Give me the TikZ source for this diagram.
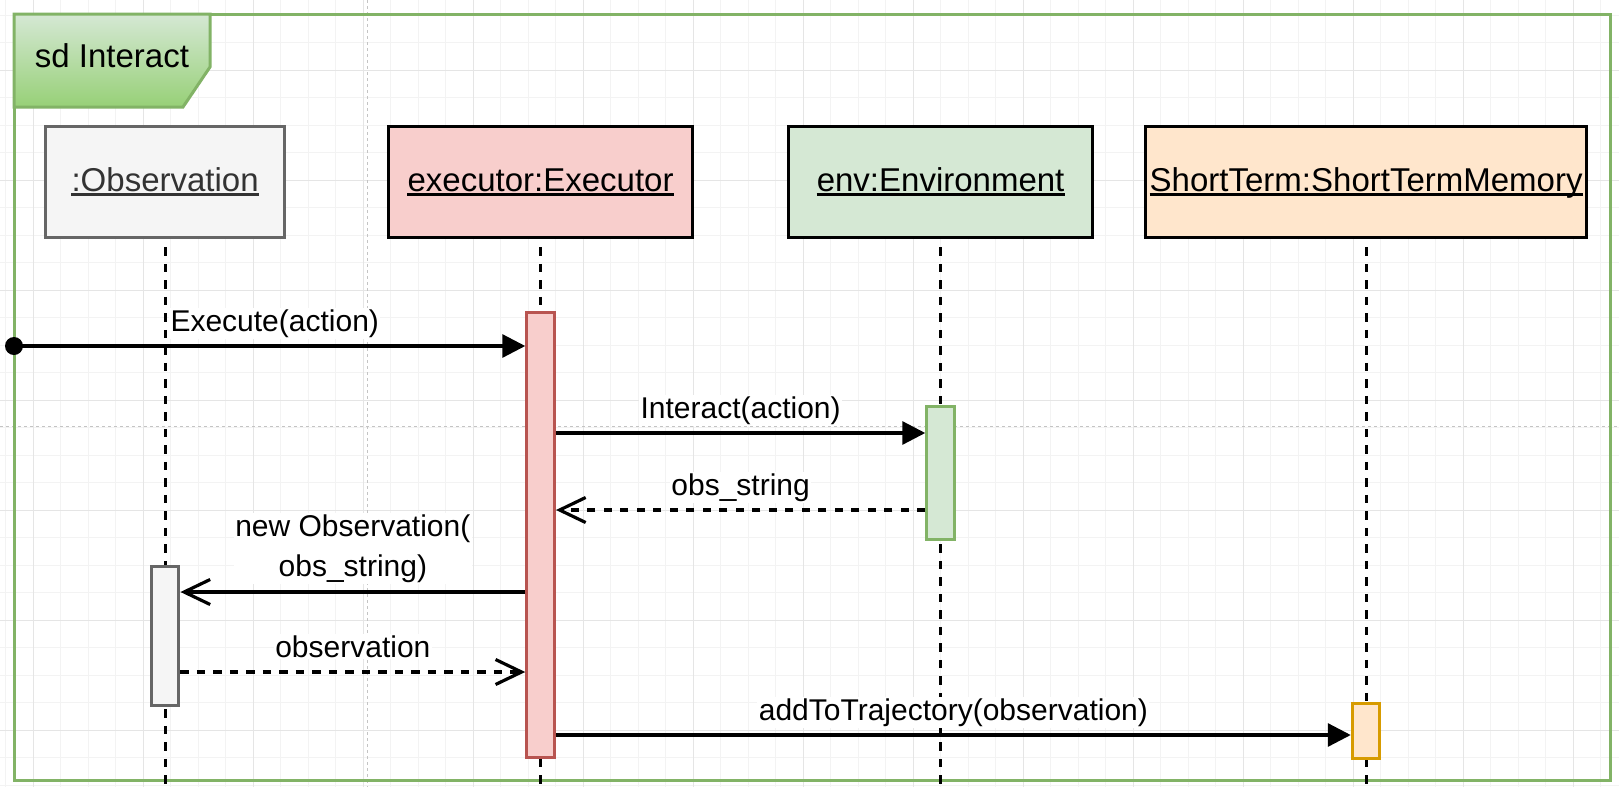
\documentclass[tikz,border=0pt]{standalone}
\usepackage{fontspec}
\setmainfont{Liberation Sans}
\usetikzlibrary{arrows.meta}
\definecolor{gridminor}{HTML}{F3F3F3}
\definecolor{gridmajor}{HTML}{E5E5E5}
\definecolor{pagebreak}{HTML}{C4C4C4}
\definecolor{frameGreen}{HTML}{82B366}
\definecolor{tabTop}{HTML}{D5E8D4}
\definecolor{tabBot}{HTML}{97D077}
\definecolor{obsFill}{HTML}{F5F5F5}
\definecolor{obsStroke}{HTML}{666666}
\definecolor{obsText}{HTML}{333333}
\definecolor{exFill}{HTML}{F8CECC}
\definecolor{exStroke}{HTML}{B85450}
\definecolor{envFill}{HTML}{D5E8D4}
\definecolor{stFill}{HTML}{FFE6CC}
\definecolor{stStroke}{HTML}{D79B00}
\tikzset{
  headbox/.style={draw=black, line width=3.2pt, minimum height=111.5pt, inner sep=0pt, anchor=north west},
  headtext/.style={font=\fontsize{33}{40}\selectfont, inner sep=0pt, anchor=base},
  ulline/.style={line width=2.4pt},
  lifeline/.style={line width=3.2pt, dash pattern=on 8.25pt off 8.25pt, dash phase=8.25pt},
  actbox/.style={line width=3.2pt, minimum width=27.5pt, inner sep=0pt, anchor=north},
  msg/.style={line width=3.2pt},
  sync/.style={msg, -{Triangle[length=23pt,width=23pt]}},
  openmsg/.style={msg, -{Straight Barb[length=26pt,width=25pt]}},
  retmsg/.style={openmsg, dash pattern=on 8.25pt off 8.25pt},
  msglabel/.style={font=\fontsize{30}{40}\selectfont, fill=white, inner sep=1.5pt, anchor=base, yshift=14.5pt},
  msglabeltwo/.style={font=\fontsize{30}{40}\selectfont, fill=white, inner sep=1.5pt, align=center, anchor=south, yshift=6.6pt},
}
\begin{document}
\begin{tikzpicture}[x=1pt,y=-1pt]
\useasboundingbox (0,0) rectangle (1619,787);
\fill[white] (0,0) rectangle (1619,787);
% grid
\foreach \i in {0,...,58} \draw[gridminor, line width=1pt] ({5.5+27.5*\i},0) -- ({5.5+27.5*\i},787);
\foreach \i in {0,...,28} \draw[gridminor, line width=1pt] (0,{15+27.5*\i}) -- (1619,{15+27.5*\i});
\foreach \i in {0,...,14} \draw[gridmajor, line width=1pt] ({33+110*\i},0) -- ({33+110*\i},787);
\foreach \i in {0,...,6} \draw[gridmajor, line width=1pt] (0,{70+110*\i}) -- (1619,{70+110*\i});
% page breaks
\draw[pagebreak, line width=1pt, dash pattern=on 3pt off 3pt] (367,0) -- (367,787);
\draw[pagebreak, line width=1pt, dash pattern=on 3pt off 3pt] (0,426) -- (1619,426);
% frame
\draw[frameGreen, line width=3pt] (14,14) rectangle (1610,780);
\path[top color=tabTop, bottom color=tabBot, draw=frameGreen, line width=3pt, line join=miter]
  (14,14) -- (210,14) -- (210,67) -- (183,107) -- (14,107) -- cycle;
\node[font=\fontsize{33}{40}\selectfont, inner sep=0pt] (tabtxt) at (112,56) {sd Interact};
% heads
\node[headbox, fill=obsFill, draw=obsStroke, minimum width=239pt] (obsbox) at (44,124.5) {};
\node[headbox, fill=exFill, minimum width=304pt] (exbox) at (387,124.5) {};
\node[headbox, fill=envFill, minimum width=304pt] (envbox) at (787,124.5) {};
\node[headbox, fill=stFill, minimum width=441pt] (stbox) at (1144,124.5) {};
\node[headtext, text=obsText] (obstxt) at (obsbox.center |- 0,191) {:Observation};
\node[headtext] (extxt) at (exbox.center |- 0,191) {executor:Executor};
\node[headtext] (envtxt) at (envbox.center |- 0,191) {env:Environment};
\node[headtext] (sttxt) at (stbox.center |- 0,191) {ShortTerm:ShortTermMemory};
\draw[ulline, obsText] ([yshift=-3.5pt]obstxt.base west) -- ([yshift=-3.5pt]obstxt.base east);
\draw[ulline] ([yshift=-3.5pt]extxt.base west) -- ([yshift=-3.5pt]extxt.base east);
\draw[ulline] ([yshift=-3.5pt]envtxt.base west) -- ([yshift=-3.5pt]envtxt.base east);
\draw[ulline] ([yshift=-3.5pt]sttxt.base west) -- ([yshift=-3.5pt]sttxt.base east);
% lifeline ends
\coordinate (obsend) at (obsbox.south |- 0,787);
\coordinate (exend) at (exbox.south |- 0,787);
\coordinate (envend) at (envbox.south |- 0,787);
\coordinate (stend) at (stbox.south |- 0,787);
\draw[lifeline] (obsbox.south) -- (obsend);
\draw[lifeline] (exbox.south) -- (exend);
\draw[lifeline] (envbox.south) -- (envend);
\draw[lifeline] (stbox.south) -- (stend);
% activations
\node[actbox, fill=exFill, draw=exStroke, minimum height=445pt] (exact) at (exbox.south |- 0,311) {};
\node[actbox, fill=envFill, draw=frameGreen, minimum height=133pt] (envact) at (envbox.south |- 0,405) {};
\node[actbox, fill=obsFill, draw=obsStroke, minimum height=139pt] (obsact) at (obsbox.south |- 0,565) {};
\node[actbox, fill=stFill, draw=stStroke, minimum height=55pt] (stact) at (stbox.south |- 0,702) {};
% message rows
\coordinate (m1) at (0,346);
\coordinate (m2) at (0,433);
\coordinate (m3) at (0,510);
\coordinate (m4) at (0,592);
\coordinate (m5) at (0,672);
\coordinate (m6) at (0,735);
\node[circle, fill=black, minimum size=18pt, inner sep=0pt] (start) at (14,346) {};
\draw[sync] (start.center) -- (exact.west |- m1) node[msglabel, pos=0.51] {Execute(action)};
\draw[sync] (exact.east |- m2) -- (envact.west |- m2) node[msglabel, midway] {Interact(action)};
\draw[retmsg] (envact.west |- m3) -- (exact.east |- m3) node[msglabel, midway] {obs\_string};
\draw[openmsg] (exact.west |- m4) -- (obsact.east |- m4) node[msglabeltwo, midway] {new Observation(\\obs\_string)};
\draw[retmsg] (obsact.east |- m5) -- (exact.west |- m5) node[msglabel, midway] {observation};
\draw[sync] (exact.east |- m6) -- (stact.west |- m6) node[msglabel, midway] {addToTrajectory(observation)};
\end{tikzpicture}
\end{document}
